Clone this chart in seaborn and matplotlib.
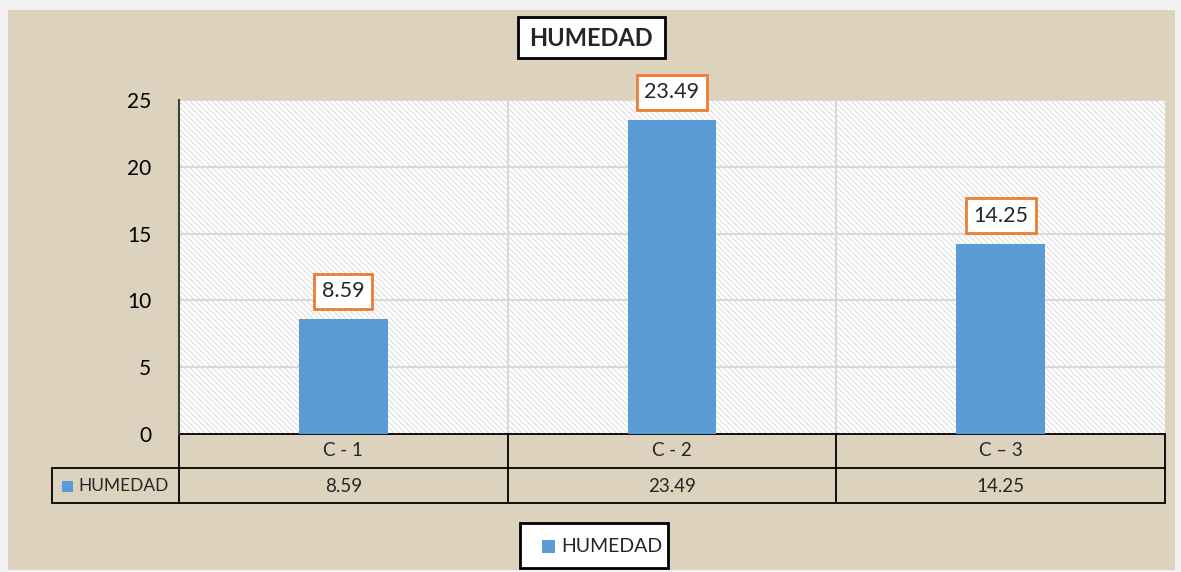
import matplotlib
matplotlib.use("Agg")
import matplotlib.pyplot as plt
import seaborn as sns
from matplotlib.patches import Rectangle
from matplotlib.lines import Line2D
from matplotlib.transforms import blended_transform_factory

categorias = ["C - 1", "C - 2", "C \u2013 3"]
humedad = [8.59, 23.49, 14.25]
etiquetas = ["8.59", "23.49", "14.25"]
serie = "HUMEDAD"

W, H = 1181, 572
azul = "#5B9BD5"
naranja = "#ED7D31"
fondo = "#DCD2BE"

sns.set_style("white")
plt.rcParams["font.family"] = ["Lato", "DejaVu Sans"]
plt.rcParams["hatch.linewidth"] = 0.7

fig = plt.figure(figsize=(W / 100, H / 100), dpi=100)
fig.patch.set_facecolor("#F2F2F2")

def fx(px):
    return px / W

def fy(py):
    return 1 - py / H

# outer panel
fig.add_artist(Rectangle((fx(8), fy(570)), fx(1167), 560 / H, transform=fig.transFigure,
                         facecolor=fondo, edgecolor="none", zorder=-10))

ax = fig.add_axes([fx(179), fy(434), fx(1165) - fx(179), (434 - 100) / H])
ax.set_facecolor("white")
ax.add_patch(Rectangle((0, 0), 1, 1, transform=ax.transAxes, facecolor="white",
                       edgecolor="#DADADA", hatch="\\" * 6, linewidth=0, zorder=0))

sns.barplot(x=categorias, y=humedad, color=azul, width=0.27, saturation=1, ax=ax,
            zorder=3, edgecolor="none", linewidth=0)
ax.set_xlim(-0.5, 2.5)
ax.set_ylim(0, 25)
ax.set_yticks([0, 5, 10, 15, 20, 25])
ax.tick_params(axis="y", labelsize=15, length=0, pad=20, colors="black")
ax.set_xticks([])
ax.set_xlabel("")
ax.set_ylabel("")
for y in [5, 10, 15, 20, 25]:
    ax.axhline(y, color="#D9D9D9", lw=1.5, zorder=1)
for x in [0.5, 1.5]:
    ax.axvline(x, color="#D9D9D9", lw=1.5, zorder=1)
for s in ["top", "right", "bottom"]:
    ax.spines[s].set_visible(False)
ax.spines["left"].set_color("#404040")
ax.spines["left"].set_linewidth(1.5)

# data labels
for i, v in enumerate(humedad):
    ax.annotate(etiquetas[i], (i, v), xytext=(0, 20), textcoords="offset points",
                ha="center", va="center", fontsize=15.5, zorder=5,
                bbox=dict(boxstyle="square,pad=0.35", facecolor="white", edgecolor=naranja, lw=2))

# data table
tr = blended_transform_factory(ax.transData, fig.transFigure)
lw = 1.3
for yy in [434, 468, 503]:
    ax.add_artist(Line2D([-0.5, 2.5], [fy(yy), fy(yy)], transform=tr, color="black", lw=lw, clip_on=False))
for xx in [-0.5, 0.5, 1.5, 2.5]:
    ax.add_artist(Line2D([xx, xx], [fy(434), fy(503)], transform=tr, color="black", lw=lw, clip_on=False))
for yy in [468, 503]:
    fig.add_artist(Line2D([fx(52), fx(179)], [fy(yy), fy(yy)], transform=fig.transFigure, color="black", lw=lw))
fig.add_artist(Line2D([fx(52), fx(52)], [fy(468), fy(503)], transform=fig.transFigure, color="black", lw=lw))
for i, c in enumerate(categorias):
    ax.text(i, fy(451), c, transform=tr, ha="center", va="center", fontsize=13.5)
    ax.text(i, fy(486), etiquetas[i], transform=tr, ha="center", va="center", fontsize=13.5)
fig.add_artist(Rectangle((fx(62), fy(492)), fx(11), 11 / H, transform=fig.transFigure,
                         facecolor=azul, edgecolor="none"))
fig.text(fx(78), fy(486), serie, ha="left", va="center", fontsize=12.5)

# title box
fig.add_artist(Rectangle((fx(518), fy(58)), fx(147), 41 / H, transform=fig.transFigure,
                         facecolor="white", edgecolor="black", lw=2))
fig.text(fx(591), fy(38), serie, ha="center", va="center", fontsize=17, fontweight="bold")

# legend box
fig.add_artist(Rectangle((fx(520), fy(568)), fx(148), 45 / H, transform=fig.transFigure,
                         facecolor="white", edgecolor="black", lw=2))
fig.add_artist(Rectangle((fx(542), fy(553)), fx(13), 13 / H, transform=fig.transFigure,
                         facecolor=azul, edgecolor="none"))
fig.text(fx(561), fy(546), serie, ha="left", va="center", fontsize=14)

fig.savefig("out.png", dpi=100)
